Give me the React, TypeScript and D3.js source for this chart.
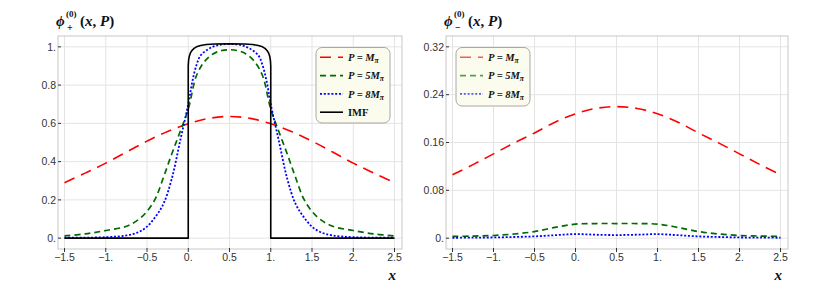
import React from "react";
import * as d3 from "d3";

// x ticks shared by both panels
const xTicks = [-1.5, -1, -0.5, 0, 0.5, 1, 1.5, 2, 2.5];
const xTickLabels = ["-1.5", "-1.", "-0.5", "0.", "0.5", "1.", "1.5", "2.", "2.5"];

// left panel: phi_+
const plusTicks = [0, 0.2, 0.4, 0.6, 0.8, 1];
const plusTickLabels = ["0.", "0.2", "0.4", "0.6", "0.8", "1."];

const redPlusX = [-1.5, -1.25, -1, -0.75, -0.5, -0.25, 0, 0.25, 0.5, 0.75, 1, 1.25, 1.5, 1.75, 2, 2.25, 2.5];
const redPlusY = [0.29, 0.34, 0.392, 0.45, 0.507, 0.558, 0.598, 0.626, 0.636, 0.626, 0.598, 0.558, 0.507, 0.45, 0.392, 0.34, 0.29];

const greenPlusX = [-1.5, -1.25, -1, -0.75, -0.6, -0.5, -0.4, -0.3, -0.2, -0.1, 0, 0.1, 0.2, 0.3, 0.4, 0.5, 0.6, 0.7, 0.8, 0.9, 1, 1.1, 1.2, 1.3, 1.4, 1.5, 1.6, 1.75, 2, 2.25, 2.5];
const greenPlusY = [0.012, 0.022, 0.04, 0.062, 0.098, 0.14, 0.205, 0.318, 0.44, 0.555, 0.675, 0.85, 0.925, 0.963, 0.98, 0.985, 0.98, 0.963, 0.925, 0.85, 0.675, 0.555, 0.44, 0.318, 0.205, 0.14, 0.098, 0.062, 0.04, 0.022, 0.012];

const bluePlusX = [-1.5, -1, -0.75, -0.6, -0.5, -0.4, -0.3, -0.2, -0.1, 0, 0.05, 0.1, 0.15, 0.25, 0.35, 0.5, 0.65, 0.75, 0.85, 0.9, 0.95, 1, 1.1, 1.2, 1.3, 1.4, 1.5, 1.6, 1.75, 2, 2.5];
const bluePlusY = [0.002, 0.005, 0.014, 0.032, 0.06, 0.11, 0.18, 0.31, 0.505, 0.7, 0.82, 0.905, 0.955, 0.99, 1.008, 1.015, 1.008, 0.99, 0.955, 0.905, 0.82, 0.7, 0.505, 0.31, 0.18, 0.11, 0.06, 0.032, 0.014, 0.005, 0.002];

const imfX = [-1.5, 0, 0, 0.004, 0.012, 0.025, 0.045, 0.07, 0.1, 0.15, 0.22, 0.32, 0.5, 0.68, 0.78, 0.85, 0.9, 0.93, 0.955, 0.975, 0.988, 0.996, 1, 1, 2.5];
const imfY = [0, 0, 0.9, 0.928, 0.95, 0.967, 0.981, 0.992, 1.0, 1.007, 1.012, 1.015, 1.016, 1.015, 1.012, 1.007, 1.0, 0.992, 0.981, 0.967, 0.95, 0.928, 0.9, 0, 0];

// right panel: phi_-
const minusTicks = [0, 0.08, 0.16, 0.24, 0.32];
const minusTickLabels = ["0.", "0.08", "0.16", "0.24", "0.32"];

const minusX = [-1.5, -1.25, -1, -0.75, -0.5, -0.25, 0, 0.25, 0.5, 0.75, 1, 1.25, 1.5, 1.75, 2, 2.25, 2.5];
const redMinusY = [0.106, 0.123, 0.141, 0.159, 0.176, 0.194, 0.208, 0.217, 0.22, 0.217, 0.208, 0.194, 0.176, 0.159, 0.141, 0.123, 0.106];
const greenMinusY = [0.003, 0.0035, 0.0045, 0.007, 0.011, 0.018, 0.0235, 0.0245, 0.0245, 0.0245, 0.0235, 0.018, 0.011, 0.007, 0.0045, 0.0035, 0.003];
const blueMinusY = [0.0007, 0.0009, 0.0012, 0.002, 0.003, 0.005, 0.0068, 0.0058, 0.0052, 0.0058, 0.0068, 0.005, 0.003, 0.002, 0.0012, 0.0009, 0.0007];

const styles = {
  red: { stroke: "#ff0000", dash: "11,7", width: 1.6 },
  green: { stroke: "#006b00", dash: "6,4", width: 1.7 },
  blue: { stroke: "#0000ff", dash: "2,1.8", width: 1.8 },
  imf: { stroke: "#000000", dash: "", width: 1.6 },
};

type Series = { xs: number[]; ys: number[]; style: { stroke: string; dash: string; width: number }; smooth: boolean };
type LegendItem = { label: string; sub: string; style: { stroke: string; dash: string; width: number } };

const tickFont = "'Liberation Sans', Arial, sans-serif";
const serif = "'Liberation Serif', 'Times New Roman', serif";

function Panel(props: {
  left: number;
  right: number;
  yDomain: [number, number];
  yTicks: number[];
  yLabels: string[];
  series: Series[];
  legend: { x: number; y: number; w: number; h: number; lineX: number; items: LegendItem[]; fade: number };
  sign: string;
  titleX: number;
}) {
  const top = 36;
  const bottom = 249;
  // x-range: -1.5 sits ~6px inside the frame
  const x = d3.scaleLinear().domain([-1.5, 2.5]).range([props.left + 6.5, props.right - 7.5]);
  const y = d3.scaleLinear().domain(props.yDomain).range([bottom, top]);
  const tx = props.titleX;

  return (
    <g>
      {/* grid */}
      {xTicks.map((t) => (
        <line key={"gx" + t} x1={x(t)} x2={x(t)} y1={top} y2={bottom} stroke="#e4e4e4" strokeWidth={1} />
      ))}
      {props.yTicks.map((t) => (
        <line key={"gy" + t} x1={props.left} x2={props.right} y1={y(t)} y2={y(t)} stroke="#e4e4e4" strokeWidth={1} />
      ))}
      {/* frame */}
      <rect x={props.left} y={top} width={props.right - props.left} height={bottom - top} fill="none" stroke="#c8c8c8" strokeWidth={1} />

      {/* ticks */}
      {xTicks.map((t, i) => (
        <g key={"tx" + t}>
          <line x1={x(t)} x2={x(t)} y1={bottom - 1} y2={bottom + 3} stroke="#333" strokeWidth={1} />
          <text x={x(t)} y={261} textAnchor="middle" fontFamily={tickFont} fontSize={10.5} fill="#333">
            {xTickLabels[i].replace("-", "\u2212")}
          </text>
        </g>
      ))}
      {props.yTicks.map((t, i) => (
        <g key={"ty" + t}>
          <line x1={props.left} x2={props.left + 3} y1={y(t)} y2={y(t)} stroke="#333" strokeWidth={1} />
          <text x={props.left - 2} y={y(t) + 3.8} textAnchor="end" fontFamily={tickFont} fontSize={10.5} fill="#333">
            {props.yLabels[i]}
          </text>
        </g>
      ))}

      {/* curves */}
      {props.series.map((s, i) => {
        const pts = s.xs.map((v, j) => [v, s.ys[j]] as [number, number]);
        const line = d3
          .line<[number, number]>()
          .x((d) => x(d[0]))
          .y((d) => y(d[1]))
          .curve(s.smooth ? d3.curveCatmullRom.alpha(0.5) : d3.curveLinear);
        return (
          <path
            key={"s" + i}
            d={line(pts) || ""}
            fill="none"
            stroke={s.style.stroke}
            strokeWidth={s.style.width}
            strokeDasharray={s.style.dash || undefined}
            strokeLinejoin="round"
          />
        );
      })}

      {/* legend */}
      <rect
        x={props.legend.x}
        y={props.legend.y}
        width={props.legend.w}
        height={props.legend.h}
        rx={6}
        fill="#fbfcee"
        stroke="#a8a8a8"
        strokeWidth={1}
      />
      {props.legend.items.map((it, i) => {
        const ly = props.legend.y + 9.8 + i * 18.3;
        return (
          <g key={"lg" + i}>
            <line
              x1={props.legend.lineX}
              x2={props.legend.lineX + 23}
              y1={ly}
              y2={ly}
              stroke={it.style.stroke}
              strokeWidth={it.style.width}
              strokeDasharray={it.style.dash || undefined}
              opacity={props.legend.fade}
            />
            <text
              x={props.legend.lineX + 28}
              y={ly + 3.8}
              fontFamily={serif}
              fontWeight="bold"
              fontStyle={it.sub ? "italic" : "normal"}
              fontSize={10.5}
              fill="#111"
            >
              {it.label}
              {it.sub ? (
                <tspan fontSize={7.5} dy={2}>
                  {it.sub}
                </tspan>
              ) : null}
            </text>
          </g>
        );
      })}

      {/* title: phi with stacked superscript (0) and subscript sign */}
      <text x={tx} y={26} fontFamily={serif} fontWeight="bold" fontStyle="italic" fontSize={15} fill="#111">
        {"\u03D5"}
      </text>
      <text x={tx + 10} y={17} fontFamily={serif} fontWeight="bold" fontSize={9} fill="#111">
        (0)
      </text>
      <text x={tx + 11} y={31} fontFamily={serif} fontWeight="bold" fontSize={10} fill="#111">
        {props.sign}
      </text>
      <text x={tx + 24} y={26} fontFamily={serif} fontWeight="bold" fontSize={15} fill="#111">
        {"("}
        <tspan fontStyle="italic">x</tspan>
        {", "}
        <tspan fontStyle="italic">P</tspan>
        {")"}
      </text>

      {/* x axis label */}
      <text x={x(2.5) - 6} y={280} fontFamily={serif} fontWeight="bold" fontStyle="italic" fontSize={15} fill="#111">
        x
      </text>
    </g>
  );
}

const App: React.FC = () => {
  const legendMain: LegendItem[] = [
    { label: "P = M", sub: "\u03C0", style: styles.red },
    { label: "P = 5M", sub: "\u03C0", style: styles.green },
    { label: "P = 8M", sub: "\u03C0", style: styles.blue },
  ];

  return (
    <svg width={830} height={298} style={{ position: "absolute", left: 0, top: 0, background: "#fff" }}>
      <Panel
        left={58}
        right={402}
        yDomain={[-0.0567, 1.0567]}
        yTicks={plusTicks}
        yLabels={plusTickLabels}
        series={[
          { xs: redPlusX, ys: redPlusY, style: styles.red, smooth: true },
          { xs: greenPlusX, ys: greenPlusY, style: styles.green, smooth: true },
          { xs: bluePlusX, ys: bluePlusY, style: styles.blue, smooth: true },
          { xs: imfX, ys: imfY, style: styles.imf, smooth: false },
        ]}
        legend={{
          x: 316,
          y: 47.5,
          w: 74,
          h: 75.5,
          lineX: 320,
          fade: 1,
          items: [...legendMain, { label: "IMF", sub: "", style: styles.imf }],
        }}
        sign="+"
        titleX={56}
      />
      <Panel
        left={446}
        right={788}
        yDomain={[-0.0181, 0.3381]}
        yTicks={minusTicks}
        yLabels={minusTickLabels}
        series={[
          { xs: minusX, ys: redMinusY, style: styles.red, smooth: true },
          { xs: minusX, ys: greenMinusY, style: styles.green, smooth: true },
          { xs: minusX, ys: blueMinusY, style: styles.blue, smooth: true },
        ]}
        legend={{ x: 456, y: 47.5, w: 74, h: 58.5, lineX: 460, fade: 0.65, items: legendMain }}
        sign={"\u2212"}
        titleX={444}
      />
    </svg>
  );
};

export default App;
